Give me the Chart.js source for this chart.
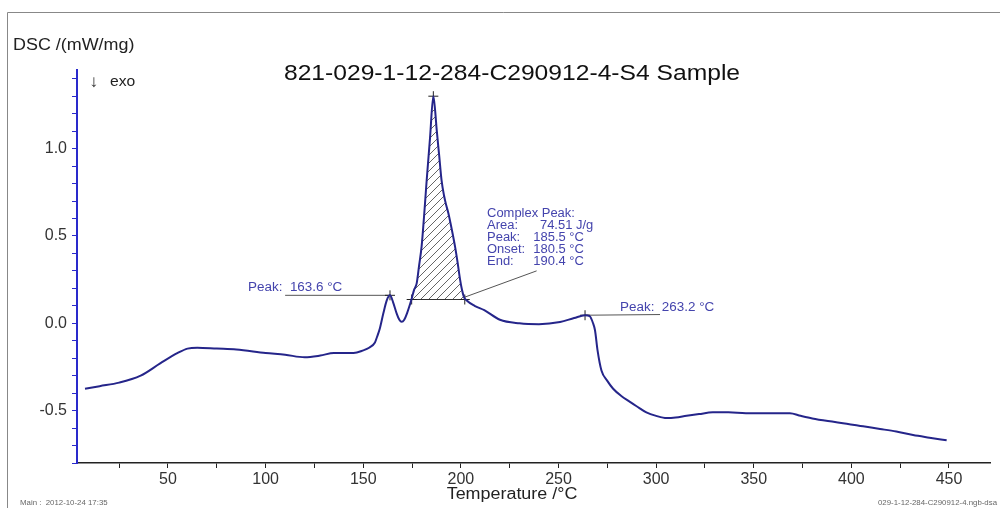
<!DOCTYPE html>
<html>
<head>
<meta charset="utf-8">
<script src="https://cdn.jsdelivr.net/npm/chart.js@4.4.0/dist/chart.umd.min.js"></script>
<style>
  html, body { margin: 0; padding: 0; background: #fff; }
</style>
</head>
<body>
<canvas id="dsc" width="1000" height="508"></canvas>
<script>
// DSC curve (temperature in °C, DSC in mW/mg)
const temps = [7.5, 15, 25, 36, 46, 55, 60, 65, 75, 85, 100, 110, 120, 128, 135, 145, 150, 153, 156, 157,
  158.5, 160.3, 162, 163.7, 165.3, 167.1, 168.5, 169.7, 171, 172.5, 174, 174.8, 176, 177.4, 178.6, 179.9,
  181.2, 182.5, 184.2, 185.9, 186.8, 187.6, 188.9, 190.1, 191.4, 192.4, 193.6, 195.3, 197, 198.3, 199.6,
  200.6, 201.6, 203, 207, 212, 220, 230, 240, 250.8, 258, 263.6, 266, 267.7, 268.7, 270, 272, 275, 278,
  282, 286.6, 290, 295, 300, 305.4, 310, 315.6, 322, 329, 337, 346, 357, 368.5, 374, 380, 388, 397.6,
  406, 414.7, 423, 431.6, 440, 448.8];
const dsc = [-0.375, -0.36, -0.34, -0.30, -0.23, -0.17, -0.145, -0.14, -0.145, -0.15, -0.17, -0.18, -0.195,
  -0.185, -0.17, -0.17, -0.155, -0.14, -0.11, -0.08, -0.03, 0.057, 0.13, 0.16, 0.12, 0.057, 0.02, 0.008,
  0.02, 0.06, 0.11, 0.14, 0.19, 0.23, 0.33, 0.44, 0.62, 0.82, 1.06, 1.30, 1.22, 1.11, 0.96, 0.82, 0.73,
  0.68, 0.63, 0.54, 0.44, 0.35, 0.25, 0.19, 0.15, 0.13, 0.10, 0.075, 0.02, 0.0, -0.005, 0.007, 0.03,
  0.046, 0.04, 0.0, -0.04, -0.155, -0.27, -0.33, -0.375, -0.415, -0.45, -0.475, -0.51, -0.53, -0.543,
  -0.54, -0.53, -0.52, -0.51, -0.51, -0.515, -0.515, -0.515, -0.53, -0.545, -0.56, -0.575, -0.59,
  -0.605, -0.62, -0.64, -0.655, -0.67];

// integrated complex peak
const peakStart = 174.8;
const peakEnd = 202;
const peakBaseline = 0.136;

// marked points (crosses)
const markT = [185.9, 163.7, 263.6, 174.8, 202];
const markV = [1.30, 0.16, 0.046, 0.136, 0.136];

// leader lines from labels to the curve
const leader1T = [110, 163.7];
const leader1V = [0.16, 0.16];
const leader2T = [263.6, 302];
const leader2V = [0.046, 0.05];
const leader3T = [202.1, 238.8];
const leader3V = [0.15, 0.30];

// axes
const xLabels = [50, 100, 150, 200, 250, 300, 350, 400, 450];
const xMinor = [25, 75, 125, 175, 225, 275, 325, 375, 425];
const yLabels = [-0.5, 0.0, 0.5, 1.0];

const FONT = '"Liberation Sans", Arial, "DejaVu Sans", sans-serif';
const LBLUE = "#4444ad";

function pts(xs, ys) {
  return xs.map((x, i) => ({ x: x, y: ys[i] }));
}

const curve = pts(temps, dsc);
const areaPts = curve.filter(p => p.x >= peakStart && p.x <= peakEnd);

// hatch pattern for the peak area
function hatch() {
  const c = document.createElement("canvas");
  c.width = 8; c.height = 8;
  const g = c.getContext("2d");
  g.strokeStyle = "#666";
  g.lineWidth = 1;
  g.beginPath();
  g.moveTo(0, 8); g.lineTo(8, 0);
  g.moveTo(-1, 1); g.lineTo(1, -1);
  g.moveTo(7, 9); g.lineTo(9, 7);
  g.stroke();
  return g.createPattern(c, "repeat");
}

function stretchText(ctx, text, x, y, size, color, align, sx) {
  sx = sx || 1.12;
  ctx.save();
  ctx.font = size + "px " + FONT;
  ctx.fillStyle = color;
  ctx.textBaseline = "alphabetic";
  ctx.textAlign = "left";
  const w = ctx.measureText(text).width * sx;
  let left = x;
  if (align === "center") left = x - w / 2;
  else if (align === "right") left = x - w;
  ctx.translate(left, y);
  ctx.scale(sx, 1);
  ctx.fillText(text, 0, 0);
  ctx.restore();
}

const decor = {
  id: "decor",
  beforeDraw(chart) {
    const ctx = chart.ctx;
    ctx.save();
    ctx.fillStyle = "#fff";
    ctx.fillRect(0, 0, chart.width, chart.height);
    ctx.strokeStyle = "#888";
    ctx.lineWidth = 1;
    ctx.beginPath();
    ctx.moveTo(7.5, chart.height);
    ctx.lineTo(7.5, 12.5);
    ctx.lineTo(chart.width, 12.5);
    ctx.stroke();
    ctx.restore();
  },
  afterDraw(chart) {
    const ctx = chart.ctx;
    const xs = chart.scales.x, ys = chart.scales.y;
    const px = t => xs.getPixelForValue(t);
    const py = v => ys.getPixelForValue(v);

    stretchText(ctx, "821-029-1-12-284-C290912-4-S4 Sample", 512, 80, 22, "#111", "center");
    stretchText(ctx, "DSC /(mW/mg)", 13, 50, 16, "#222", "left");
    stretchText(ctx, "\u2193", 89, 87, 17, "#333", "left");
    stretchText(ctx, "exo", 110, 86, 14, "#222", "left");
    stretchText(ctx, "Temperature /\u00b0C", 512, 499, 16, "#222", "center");
    stretchText(ctx, "Main :  2012-10-24 17:35", 20, 505, 7, "#666", "left");
    stretchText(ctx, "029-1-12-284-C290912-4.ngb-dsa", 997, 505, 7, "#666", "right");

    stretchText(ctx, "Peak:  163.6 \u00b0C", px(91), py(0.185), 12, LBLUE, "left");
    stretchText(ctx, "Peak:  263.2 \u00b0C", px(281.5), py(0.07), 12, LBLUE, "left");

    const rows = [
      ["Complex Peak:", ""],
      ["Area:", "74.51 J/g"],
      ["Peak:", "185.5 \u00b0C"],
      ["Onset:", "180.5 \u00b0C"],
      ["End:", "190.4 \u00b0C"]
    ];
    const rowV = [0.607, 0.539, 0.470, 0.401, 0.333];
    rows.forEach((r, i) => {
      stretchText(ctx, r[0], px(213.4), py(rowV[i]), 12, LBLUE, "left", 1.08);
      if (r[1]) stretchText(ctx, r[1], px(i === 1 ? 240.5 : 237.1), py(rowV[i]), 12, LBLUE, "left", 1.08);
    });
  }
};

new Chart(document.getElementById("dsc"), {
  type: "scatter",
  data: {
    datasets: [
      {
        data: curve,
        showLine: true,
        borderColor: "#25258a",
        borderWidth: 2,
        pointRadius: 0,
        cubicInterpolationMode: "monotone",
        fill: false
      },
      {
        data: pts(markT, markV),
        showLine: false,
        pointStyle: "cross",
        pointRadius: 5,
        borderColor: "#222",
        borderWidth: 1
      },
      {
        data: pts([peakStart, peakEnd], [peakBaseline, peakBaseline]),
        showLine: true,
        borderColor: "#333",
        borderWidth: 1,
        pointRadius: 0
      },
      {
        data: pts(leader1T, leader1V),
        showLine: true,
        borderColor: "#555",
        borderWidth: 1,
        pointRadius: 0
      },
      {
        data: pts(leader2T, leader2V),
        showLine: true,
        borderColor: "#555",
        borderWidth: 1,
        pointRadius: 0
      },
      {
        data: pts(leader3T, leader3V),
        showLine: true,
        borderColor: "#555",
        borderWidth: 1,
        pointRadius: 0
      },
      {
        data: areaPts,
        showLine: true,
        borderWidth: 0,
        borderColor: "rgba(0,0,0,0)",
        pointRadius: 0,
        cubicInterpolationMode: "monotone",
        backgroundColor: hatch(),
        fill: { value: peakBaseline }
      }
    ]
  },
  plugins: [decor],
  options: {
    responsive: false,
    animation: false,
    events: [],
    layout: { padding: { top: 70, right: 10, left: 0, bottom: 0 } },
    plugins: {
      legend: { display: false },
      tooltip: { enabled: false },
      title: { display: false }
    },
    scales: {
      x: {
        type: "linear",
        min: 3.4,
        max: 471,
        afterBuildTicks: function (s) {
          s.ticks = xMinor.concat(xLabels).sort((a, b) => a - b).map(v => ({ value: v }));
        },
        afterFit: function (s) { s.height = 45; },
        ticks: {
          autoSkip: false,
          maxRotation: 0,
          padding: 2,
          color: "#333",
          font: { family: FONT, size: 16 },
          callback: function (v) { return xLabels.includes(v) ? String(v) : ""; }
        },
        grid: { drawOnChartArea: false, tickLength: 5, color: "#222" },
        border: { color: "#222", width: 1.5 }
      },
      y: {
        min: -0.8,
        max: 1.45,
        afterBuildTicks: function (s) {
          const t = [];
          for (let k = -8; k <= 14; k++) t.push({ value: k / 10 });
          s.ticks = t;
        },
        afterFit: function (s) { s.width = 77; },
        ticks: {
          autoSkip: false,
          padding: 5,
          color: "#333",
          font: { family: FONT, size: 16 },
          callback: function (v) {
            return yLabels.some(l => Math.abs(l - v) < 1e-6) ? v.toFixed(1) : "";
          }
        },
        grid: { drawOnChartArea: false, tickLength: 5, color: "#2a2acc" },
        border: { color: "#2a2acc", width: 2 }
      }
    }
  }
});
</script>
</body>
</html>
